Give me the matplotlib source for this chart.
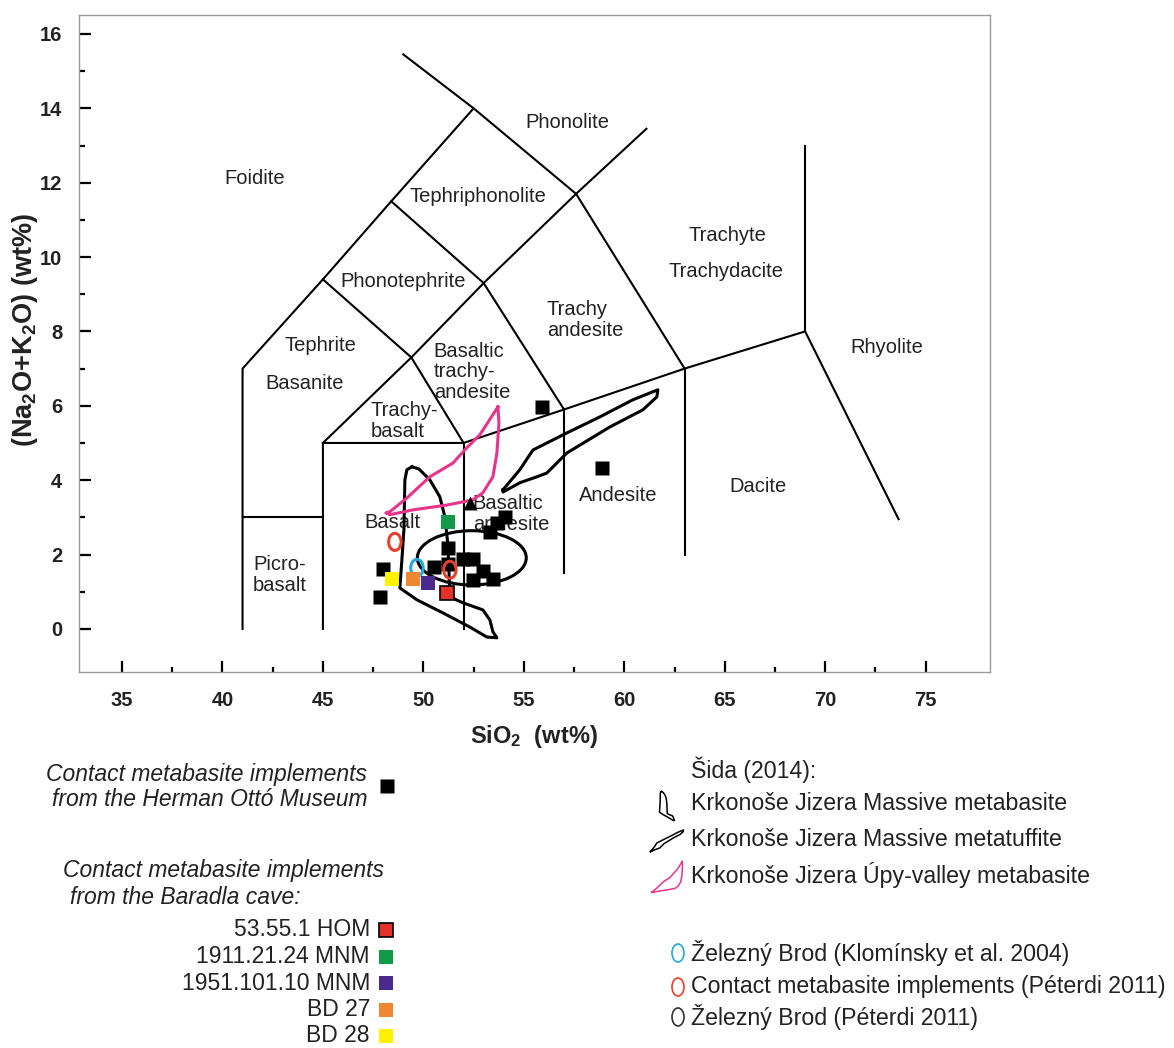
import numpy as np
import matplotlib.pyplot as plt
from matplotlib.patches import Ellipse

plt.rcParams['font.family'] = ['Liberation Sans', 'DejaVu Sans']
plt.rcParams['mathtext.default'] = 'regular'

# TAS field boundaries (Le Bas et al. 1986), pairs of SiO2 / Na2O+K2O
tas_lines = [
    [(41, 0), (41, 7), (45, 9.4), (48.4, 11.5), (52.5, 14), (49.0, 15.45)],
    [(41, 3), (45, 3)],
    [(45, 0), (45, 5), (52, 5), (57, 5.9), (63, 7), (69, 8), (73.65, 2.95)],
    [(52, 0), (52, 5)],
    [(57, 1.5), (57, 5.9)],
    [(63, 2), (63, 7)],
    [(69, 8), (69, 13)],
    [(45, 5), (49.4, 7.3), (53, 9.3), (57.6, 11.7), (61.1, 13.45)],
    [(45, 9.4), (49.4, 7.3), (52, 5)],
    [(48.4, 11.5), (53, 9.3), (57, 5.9)],
    [(52.5, 14), (57.6, 11.7), (63, 7)],
]

# Herman Ottó Museum implements
hom_sio2 = [47.99, 47.84, 50.52, 51.22, 51.22, 51.97, 52.46, 52.96, 52.46,
            53.46, 54.05, 53.66, 53.31, 58.88, 55.90]
hom_alk = [1.61, 0.86, 1.67, 2.18, 1.75, 1.88, 1.88, 1.56, 1.32,
           1.34, 3.01, 2.85, 2.61, 4.33, 5.97]

# Baradla cave implements
baradla_names = ['53.55.1 HOM', '1911.21.24 MNM', '1951.101.10 MNM', 'BD 27', 'BD 28']
baradla_sio2 = [51.17, 51.22, 50.22, 49.48, 48.43]
baradla_alk = [0.97, 2.88, 1.24, 1.34, 1.34]

# Péterdi 2011 contact metabasite implements, Klomínsky et al. 2004
peterdi_sio2 = [48.58, 51.32]
peterdi_alk = [2.34, 1.59]
klominsky_sio2 = [49.68]
klominsky_alk = [1.64]
triangle_sio2 = [52.31]
triangle_alk = [3.39]

# Železný Brod field (Péterdi 2011): centre and extent
zb_centre = (52.41, 1.91)
zb_width, zb_height = 5.42, 1.46

# Šida (2014) fields
metabasite_sio2 = [49.43, 49.78, 50.32, 50.82, 51.07, 51.22, 51.27, 51.32, 51.97, 52.96,
                   53.31, 53.46, 53.66, 53.16, 52.31, 50.97, 49.68, 48.83, 48.93, 49.03,
                   49.08, 49.18]
metabasite_alk = [4.36, 4.30, 4.01, 3.55, 3.01, 2.26, 1.59, 0.86, 0.70, 0.51,
                  0.24, -0.08, -0.24, -0.22, 0.05, 0.43, 0.78, 1.10, 1.86, 2.66,
                  4.01, 4.28]
metatuffite_sio2 = [53.96, 54.80, 55.45, 57.14, 58.78, 60.42, 61.67, 61.62, 60.92,
                    59.28, 57.14, 56.14, 55.65, 54.80, 53.96]
metatuffite_alk = [3.74, 4.28, 4.81, 5.27, 5.70, 6.16, 6.43, 6.24, 5.89,
                   5.43, 4.73, 4.19, 4.09, 3.93, 3.68]
upy_sio2 = [53.71, 53.76, 53.66, 53.46, 52.96, 52.46, 51.17, 49.48, 48.33, 48.13,
            48.33, 49.18, 50.32, 51.47, 52.16, 52.81]
upy_alk = [5.97, 5.54, 4.73, 4.09, 3.66, 3.47, 3.33, 3.20, 3.07, 3.12,
           3.15, 3.52, 4.09, 4.46, 4.87, 5.22]

x_major = [35, 40, 45, 50, 55, 60, 65, 70, 75]
y_major = [0, 2, 4, 6, 8, 10, 12, 14, 16]

baradla_colors = ['#e4322b', '#13994a', '#4a2b8d', '#ef8632', '#fff200']
pink = '#e6358b'
text_col = '#222222'

W, H = 1174, 1048
fig = plt.figure(figsize=(W / 100, H / 100), dpi=100)
ax = fig.add_axes([79 / W, 1 - 672 / H, 911 / W, 657 / H])
ax.set_xlim(32.86, 78.2)
ax.set_ylim(-1.16, 16.51)

for side in ax.spines.values():
    side.set_color('#999999')
    side.set_linewidth(1)

ax.set_xticks(x_major)
ax.set_xticks(np.arange(37.5, 75, 5), minor=True)
ax.set_yticks(y_major)
ax.set_yticks(np.arange(1, 16, 2), minor=True)
ax.tick_params(which='both', direction='in', color='black', width=1.6,
               labelsize=14.5, labelcolor=text_col)
ax.tick_params(axis='x', which='major', length=8, pad=14)
ax.tick_params(axis='x', which='minor', length=3.6)
ax.tick_params(axis='y', which='major', length=8.5, pad=12)
ax.tick_params(axis='y', which='minor', length=4)
for lab in ax.get_xticklabels() + ax.get_yticklabels():
    lab.set_fontweight('bold')

# classification grid
for seg in tas_lines:
    xs, ys = zip(*seg)
    ax.plot(xs, ys, color='black', lw=1.5, zorder=1)

field_labels = [
    ('Foidite', 41.62, 12.10, 'center'),
    ('Phonolite', 57.19, 13.61, 'center'),
    ('Tephriphonolite', 52.71, 11.62, 'center'),
    ('Phonotephrite', 48.98, 9.33, 'center'),
    ('Trachy\nandesite', 56.15, 8.31, 'left'),
    ('Tephrite', 44.90, 7.61, 'center'),
    ('Basanite', 44.10, 6.61, 'center'),
    ('Basaltic\ntrachy-\nandesite', 50.52, 6.91, 'left'),
    ('Trachy-\nbasalt', 47.39, 5.59, 'left'),
    ('Basaltic\nandesite', 52.46, 3.09, 'left'),
    ('Basalt', 48.48, 2.85, 'center'),
    ('Andesite', 59.68, 3.60, 'center'),
    ('Dacite', 66.64, 3.82, 'center'),
    ('Rhyolite', 73.06, 7.58, 'center'),
    ('Trachyte', 65.15, 10.57, 'center'),
    ('Trachydacite', 65.05, 9.60, 'center'),
    ('Picro-\nbasalt', 42.86, 1.45, 'center'),
]
for name, fx, fy, ha in field_labels:
    ax.text(fx, fy, name, ha=ha, va='center', fontsize=14.5, color=text_col,
            linespacing=1.1, multialignment=ha, zorder=1.5)

# Šida (2014) fields
for xs, ys, col in [(metabasite_sio2, metabasite_alk, 'black'),
                    (metatuffite_sio2, metatuffite_alk, 'black'),
                    (upy_sio2, upy_alk, pink)]:
    ax.plot(xs + xs[:1], ys + ys[:1], color=col, lw=2.2, zorder=2,
            solid_joinstyle='round')

ax.add_patch(Ellipse(zb_centre, zb_width, zb_height, fill=False, ec='black',
                     lw=2.2, zorder=2))

for cx, cy in zip(klominsky_sio2, klominsky_alk):
    ax.add_patch(Ellipse((cx, cy), 0.62, 0.46, fill=False, ec='#27a8df',
                         lw=2.2, zorder=3))

ax.plot(hom_sio2, hom_alk, 's', ms=9.5, color='black', mec='none', zorder=4)
ax.plot(triangle_sio2, triangle_alk, '^', ms=10, color='black', mec='none', zorder=4)
for sx, sy, col in zip(baradla_sio2, baradla_alk, baradla_colors):
    edge = 'black' if col == baradla_colors[0] else 'none'
    ax.plot(sx, sy, 's', ms=9.5, color=col, mec=edge, mew=1.2, zorder=5)

for cx, cy in zip(peterdi_sio2, peterdi_alk):
    ax.add_patch(Ellipse((cx, cy), 0.62, 0.46, fill=False, ec='#e5412c',
                         lw=2.2, zorder=6))

# axis titles
fig.text(534 / W, 1 - 736 / H, r'SiO$_2$  (wt%)', ha='center', va='center',
         fontsize=17, fontweight='bold', color=text_col)
fig.text(25 / W, 1 - 330 / H, r'(Na$_2$O+K$_2$O) (wt%)', ha='center', va='center',
         rotation=90, fontsize=19.5, fontweight='bold', color=text_col)

# legend panel, drawn in pixel units
lg = fig.add_axes([0, 0, 1, 1])
lg.set_xlim(0, W)
lg.set_ylim(H, 0)
lg.axis('off')

lg.text(367, 775, 'Contact metabasite implements', ha='right', va='center',
        style='italic', fontsize=16.5, color=text_col)
lg.text(367, 800, 'from the Herman Ottó Museum', ha='right', va='center',
        style='italic', fontsize=16.5, color=text_col)
lg.plot(387, 786, 's', ms=9.5, color='black', mec='none')

lg.text(63, 870, 'Contact metabasite implements', ha='left', va='center',
        style='italic', fontsize=16.5, color=text_col)
lg.text(70, 897, 'from the Baradla cave:', ha='left', va='center',
        style='italic', fontsize=16.5, color=text_col)
for i, (name, col) in enumerate(zip(baradla_names, baradla_colors)):
    row = 930 + i * 26.5
    lg.text(370, row, name, ha='right', va='center', fontsize=16.5, color=text_col)
    edge = 'black' if i == 0 else 'none'
    lg.plot(386, row, 's', ms=9.5, color=col, mec=edge, mew=1.2)


def icon(xs, ys, cx, cy, w, h):
    xs = np.asarray(xs + xs[:1])
    ys = np.asarray(ys + ys[:1])
    px = cx + (xs - (xs.min() + xs.max()) / 2) / np.ptp(xs) * w
    py = cy - (ys - (ys.min() + ys.max()) / 2) / np.ptp(ys) * h
    return px, py


col_x = 691
lg.text(col_x, 770, 'Šida (2014):', ha='left', va='center', fontsize=16.7,
        color=text_col)
sida_rows = [
    ('Krkonoše Jizera Massive metabasite', metabasite_sio2, metabasite_alk, 'black', 15, 29, 804),
    ('Krkonoše Jizera Massive metatuffite', metatuffite_sio2, metatuffite_alk, 'black', 33, 22, 839),
    ('Krkonoše Jizera Úpy-valley metabasite', upy_sio2, upy_alk, pink, 31, 31, 875),
]
for name, xs, ys, col, w, h, row in sida_rows:
    px, py = icon(xs, ys, col_x - 24, row + 2, w, h)
    lg.plot(px, py, color=col, lw=1.1)
    lg.text(col_x, row, name, ha='left', va='center', fontsize=16.7, color=text_col)

ref_rows = [
    ('Železný Brod (Klomínsky et al. 2004)', '#27a8df', 953),
    ('Contact metabasite implements (Péterdi 2011)', '#e5412c', 987),
    ('Železný Brod (Péterdi 2011)', '#333333', 1017),
]
for name, col, row in ref_rows:
    lg.add_patch(Ellipse((col_x - 13, row), 12, 18, fill=False, ec=col, lw=1.2))
    lg.text(col_x, row, name, ha='left', va='center', fontsize=16.7,
            color=text_col)

fig.savefig('out.png', dpi=100)
